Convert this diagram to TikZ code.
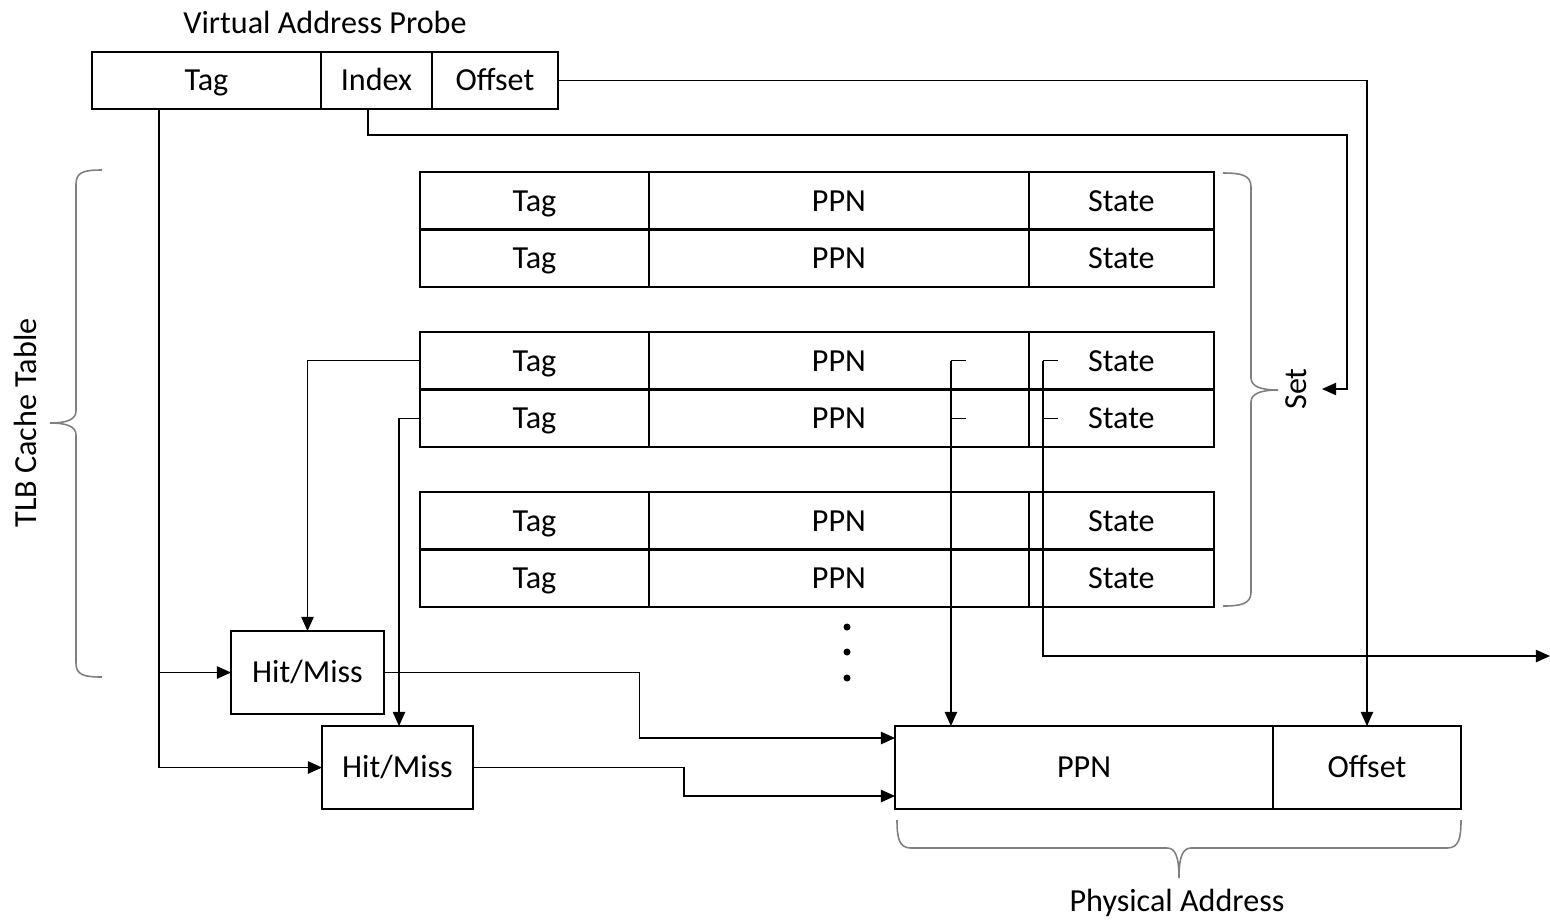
\documentclass[tikz,border=0pt]{standalone}
\usepackage{fontspec}
\setmainfont{Carlito}
\usetikzlibrary{positioning,arrows.meta,calc}

\begin{document}
\begin{tikzpicture}[x=0.02cm,y=-0.02cm,
  font=\fontsize{18.3}{22}\selectfont,
  cell/.style={draw,line width=1.4pt,inner sep=0pt,outer sep=0pt,minimum height=1.15cm,
    text height=11.8pt,text depth=0pt},
  box/.style={draw,line width=1.6pt,inner sep=0pt,outer sep=0pt,minimum height=1.66cm,
    text height=11.8pt,text depth=0pt},
  wire/.style={line width=0.8pt},
  conn/.style={wire,-{Triangle[length=8pt,width=7pt]}},
  curly/.style={draw=gray,line width=0.9pt}]

\useasboundingbox (0,0) rectangle (1550,921);

% virtual address probe
\node (va-title) at (325,22) {Virtual Address Probe};
\node[cell,minimum width=4.58cm,minimum height=1.14cm] (va-tag) at (206.5,80.5) {Tag};
\node[cell,minimum width=2.22cm,minimum height=1.14cm,right=0pt of va-tag] (va-idx) {Index};
\node[cell,minimum width=2.52cm,minimum height=1.14cm,right=0pt of va-idx] (va-off) {Offset};

% TLB entries, three sets of two ways
\foreach \g in {0,1,2}{
  \foreach \r in {0,1}{
    \pgfmathsetmacro{\ymid}{172+160*\g+57.5*\r+28.75}
    \node[cell,minimum width=4.58cm] (tag-\g-\r) at (534.5,\ymid) {Tag};
    \node[cell,minimum width=7.6cm,right=0pt of tag-\g-\r] (ppn-\g-\r) {PPN};
    \node[cell,minimum width=3.7cm,right=0pt of ppn-\g-\r] (st-\g-\r) {State};
  }
}
\foreach \y in {627,652,678}
  \fill (847,\y) circle (2pt);

% braces
\draw[curly] (102,170) .. controls (84,170) and (76,172) .. (76,184) -- (76,411)
  .. controls (76,419) and (68,423) .. (50,423) .. controls (68,423) and (76,427) .. (76,435)
  -- (76,663) .. controls (76,675) and (84,677) .. (102,677);
\draw[curly] (1223,173) .. controls (1241,173) and (1251,175) .. (1251,187) -- (1251,378)
  .. controls (1251,386) and (1260,390) .. (1278,390) .. controls (1260,390) and (1251,394) .. (1251,402)
  -- (1251,592) .. controls (1251,604) and (1241,606) .. (1223,606);
\draw[curly] (897,820) .. controls (897,838) and (899,848) .. (911,848) -- (1167,848)
  .. controls (1175,848) and (1179,856) .. (1179,878) .. controls (1179,856) and (1183,848) .. (1191,848)
  -- (1447,848) .. controls (1459,848) and (1461,838) .. (1461,820);
\node[rotate=90] (tlb) at (25,423) {TLB Cache Table};
\node[rotate=90] (set) at (1296,389) {Set};

% hit/miss logic
\node[box,minimum width=3.06cm] (hm1) at (307.5,672.5) {Hit/Miss};
\node[box,minimum width=3.02cm] (hm2) at (397.5,767.5) {Hit/Miss};

% physical address
\node[box,minimum width=7.56cm] (pa-ppn) at (1084,767.5) {PPN};
\node[box,minimum width=3.76cm,right=0pt of pa-ppn] (pa-off) {Offset};
\node (pa-lbl) at (1177,903) {Physical Address};

% wiring
\coordinate (set-in) at (1322,389);
\coordinate (tag-dn) at ([xshift=-0.95cm]va-tag.south);
\coordinate (ppn-tap0) at ([xshift=2.24cm]ppn-1-0.center);
\coordinate (ppn-tap1) at ([xshift=2.24cm]ppn-1-1.center);
\coordinate (st-tap0) at ([xshift=-1.57cm]st-1-0.center);
\coordinate (st-tap1) at ([xshift=-1.57cm]st-1-1.center);
\coordinate (st-out) at (1550,656);
\coordinate (pa-in1) at ([yshift=0.59cm]pa-ppn.west);
\coordinate (pa-in2) at ([yshift=-0.57cm]pa-ppn.west);

\draw[conn] (va-off.east) -| (pa-off.north);
\draw[conn] ([xshift=-0.17cm]va-idx.south) -- ++(0,26) -| ([xshift=0.5cm]set-in) -- (set-in);
\draw[conn] (tag-dn) |- (hm1.west);
\draw[conn] (tag-dn) |- (hm2.west);
\draw[conn] (tag-1-0.west) -| (hm1.north);
\draw[conn] (tag-1-1.west) -| ([xshift=0.03cm]hm2.north);

\draw[wire] ([xshift=0.3cm]ppn-tap0) -- (ppn-tap0);
\draw[wire] ([xshift=0.3cm]ppn-tap1) -- (ppn-tap1);
\draw[conn] (ppn-tap0) -- (ppn-tap0 |- pa-ppn.north);
\draw[wire] ([xshift=0.3cm]st-tap0) -- (st-tap0);
\draw[wire] ([xshift=0.3cm]st-tap1) -- (st-tap1);
\draw[conn] (st-tap0) |- (st-out);

\draw[conn] (hm1.east) -| ($(hm1.east)!.5!(pa-in1)$) |- (pa-in1);
\draw[conn] (hm2.east) -| ($(hm2.east)!.5!(pa-in2)$) |- (pa-in2);
\end{tikzpicture}
\end{document}
